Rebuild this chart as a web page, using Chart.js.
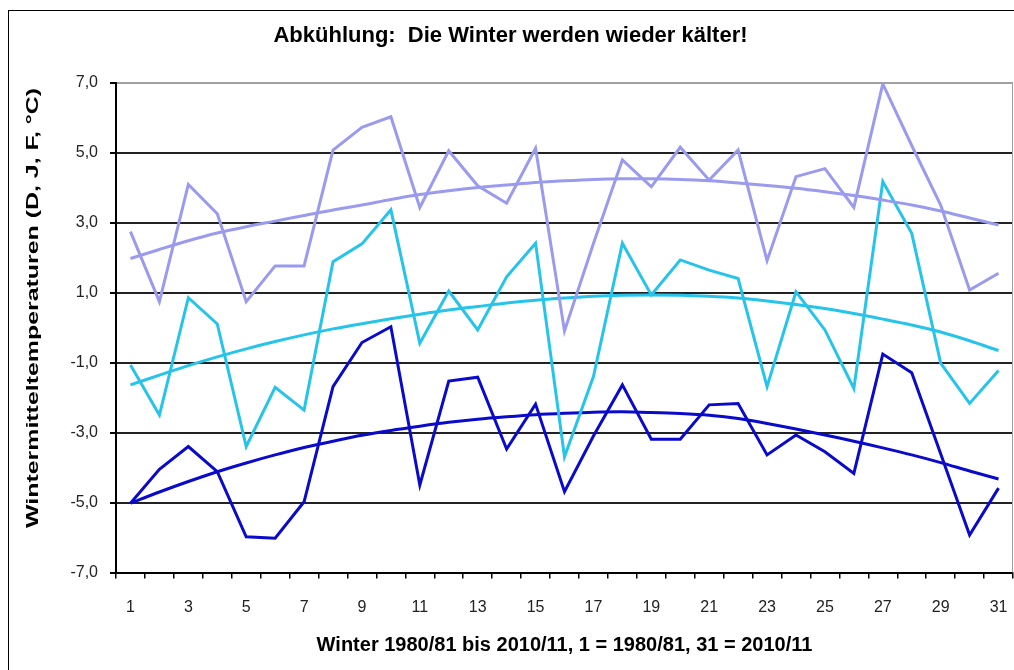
<!DOCTYPE html>
<html lang="de">
<head>
<meta charset="utf-8">
<title>Abkühlung: Die Winter werden wieder kälter!</title>
<script src="https://cdn.jsdelivr.net/npm/chart.js@4.4.1/dist/chart.umd.min.js"></script>
<style>
  html, body { margin: 0; padding: 0; background: #fff; }
  canvas { display: block; }
</style>
</head>
<body>
<canvas id="chart" width="1014" height="670"></canvas>
<script>
// Winter 1 = 1980/81 ... 31 = 2010/11
var winters = ['1','2','3','4','5','6','7','8','9','10','11','12','13','14','15','16',
               '17','18','19','20','21','22','23','24','25','26','27','28','29','30','31'];

// Wintermittel (D, J, F) in °C, drei Reihen
var reiheOben = [2.74, 0.74, 4.09, 3.25, 0.74, 1.76, 1.76, 5.07, 5.72, 6.02, 3.43, 5.05, 4.05, 3.55, 5.12, -0.1,
                 2.4, 4.79, 4.02, 5.15, 4.21, 5.07, 1.91, 4.31, 4.54, 3.43, 6.96, 5.2, 3.5, 1.07, 1.55];
var reiheMitte = [-1.07, -2.5, 0.85, 0.1, -3.4, -1.71, -2.36, 1.88, 2.39, 3.36, -0.45, 1.04, -0.07, 1.45, 2.41, -3.69,
                  -1.4, 2.41, 0.93, 1.93, 1.64, 1.4, -1.69, 1.02, -0.07, -1.74, 4.17, 2.69, -1.02, -2.17, -1.23];
var reiheUnten = [-5.02, -4.05, -3.4, -4.12, -5.98, -6.02, -4.98, -1.69, -0.43, 0.02, -4.5, -1.53, -1.42, -3.47, -2.19, -4.69,
                  -3.1, -1.64, -3.19, -3.19, -2.21, -2.17, -3.64, -3.07, -3.55, -4.17, -0.76, -1.29, -3.61, -5.93, -4.59];

var trendOben = [1.97, 2.23, 2.48, 2.7, 2.88, 3.04, 3.2, 3.36, 3.5, 3.66, 3.8, 3.91, 4.0, 4.07, 4.14, 4.19,
                 4.23, 4.25, 4.25, 4.23, 4.19, 4.13, 4.06, 3.98, 3.88, 3.77, 3.64, 3.5, 3.33, 3.13, 2.93];
var trendMitte = [-1.64, -1.36, -1.09, -0.84, -0.61, -0.4, -0.21, -0.04, 0.11, 0.25, 0.38, 0.5, 0.6, 0.7, 0.78, 0.84,
                  0.89, 0.92, 0.93, 0.92, 0.89, 0.84, 0.76, 0.66, 0.54, 0.4, 0.24, 0.07, -0.13, -0.38, -0.66];
var trendUnten = [-5.02, -4.7, -4.4, -4.12, -3.87, -3.64, -3.43, -3.25, -3.08, -2.94, -2.82, -2.71, -2.62, -2.55, -2.49, -2.45,
                  -2.42, -2.41, -2.43, -2.46, -2.51, -2.6, -2.74, -2.9, -3.07, -3.25, -3.44, -3.64, -3.86, -4.1, -4.33];

var yTicks = [-7, -5, -3, -1, 1, 3, 5, 7];

var titel = 'Abkühlung:  Die Winter werden wieder kälter!';
var xTitel = 'Winter 1980/81 bis 2010/11, 1 = 1980/81, 31 = 2010/11';
var yTitel = 'Wintermitteltemperaturen (D, J, F, °C)';

var FONT = '"Liberation Sans", Arial, sans-serif';
var LILA = '#9a9aee';
var TUERKIS = '#26c4ea';
var BLAU = '#0a0acc';

function linie(daten, farbe) {
    return {
        data: daten,
        borderColor: farbe,
        borderWidth: 3,
        pointRadius: 0,
        tension: 0,
        fill: false
    };
}

function trend(daten, farbe) {
    var d = linie(daten, farbe);
    d.tension = 0.3;
    return d;
}

// Rahmen, rechte Kante der Zeichenfläche und senkrechter Achsentitel
const rahmen = {
    id: 'rahmen',
    beforeDraw(chart) {
        const ctx = chart.ctx;
        ctx.save();
        ctx.fillStyle = '#fff';
        ctx.fillRect(0, 0, chart.width, chart.height);
        ctx.strokeStyle = '#000';
        ctx.lineWidth = 1;
        ctx.strokeRect(8.5, 10.5, chart.width + 20, chart.height + 20);
        ctx.restore();
    },
    afterDraw(chart) {
        const ctx = chart.ctx;
        const a = chart.chartArea;
        ctx.save();
        ctx.strokeStyle = '#a0a0a0';
        ctx.lineWidth = 1;
        ctx.beginPath();
        ctx.moveTo(a.right - 0.5, a.top);
        ctx.lineTo(a.right - 0.5, a.bottom);
        ctx.stroke();

        ctx.font = 'bold 17px ' + FONT;
        ctx.fillStyle = '#000';
        ctx.textAlign = 'center';
        ctx.textBaseline = 'middle';
        ctx.translate(33, 308);
        ctx.rotate(-Math.PI / 2);
        const w = ctx.measureText(yTitel).width;
        ctx.scale(440 / w, 1);
        ctx.fillText(yTitel, 0, 0);
        ctx.restore();
    }
};

const ctx1 = document.getElementById('chart');
const diagramm = new Chart(ctx1, {
    type: 'line',
    data: {
        labels: winters,
        datasets: [
            linie(reiheOben, LILA),
            trend(trendOben, LILA),
            linie(reiheMitte, TUERKIS),
            trend(trendMitte, TUERKIS),
            linie(reiheUnten, BLAU),
            trend(trendUnten, BLAU)
        ]
    },
    options: {
        responsive: false,
        animation: false,
        layout: { padding: { left: 8, right: 1, top: 0, bottom: 0 } },
        plugins: {
            legend: { display: false },
            tooltip: { enabled: false },
            title: {
                display: true,
                text: titel,
                color: '#000',
                font: { family: FONT, size: 22, weight: 'bold', lineHeight: 1.2 },
                padding: { top: 23, bottom: 33.1 }
            }
        },
        scales: {
            x: {
                type: 'category',
                offset: true,
                afterFit: function (scale) {
                    scale.height = 97.5;
                    scale.paddingLeft = 0;
                    scale.paddingRight = 0;
                },
                grid: { offset: true, drawOnChartArea: false, color: '#000', lineWidth: 1.5, tickLength: 6 },
                border: { color: '#000', width: 2 },
                ticks: {
                    autoSkip: false,
                    maxRotation: 0,
                    padding: 19,
                    color: '#222',
                    font: { family: FONT, size: 16 },
                    callback: function (val, i) { return i % 2 === 0 ? winters[i] : ''; }
                },
                title: {
                    display: true,
                    text: xTitel,
                    color: '#000',
                    font: { family: FONT, size: 20, weight: 'bold', lineHeight: 1.2 },
                    padding: { top: 0, bottom: 13 }
                }
            },
            y: {
                min: -7,
                max: 7,
                afterFit: function (scale) {
                    scale.width = 108;
                    scale.paddingTop = 0;
                    scale.paddingBottom = 0;
                },
                afterBuildTicks: function (scale) {
                    scale.ticks = yTicks.map(function (v) { return { value: v }; });
                },
                grid: {
                    color: function (c) { return c.tick && c.tick.value === 7 ? '#a0a0a0' : '#222'; },
                    lineWidth: 2,
                    tickLength: 6,
                    tickColor: '#000'
                },
                border: { color: '#000', width: 2 },
                ticks: {
                    padding: 12,
                    color: '#222',
                    font: { family: FONT, size: 16 },
                    callback: function (v) { return v.toFixed(1).replace('.', ','); }
                }
            }
        }
    },
    plugins: [rahmen]
});
</script>
</body>
</html>
